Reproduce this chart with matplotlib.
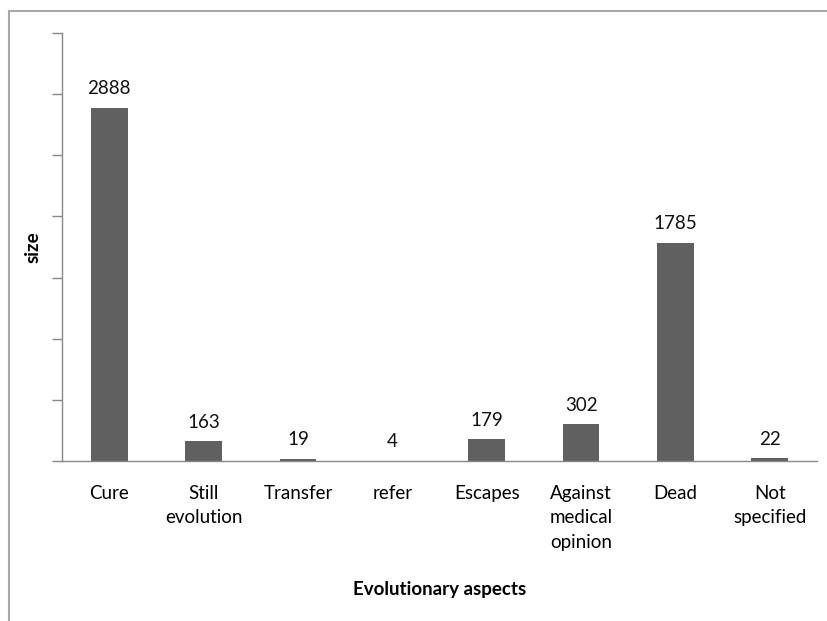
import matplotlib
matplotlib.use("Agg")
import matplotlib.pyplot as plt
from matplotlib.patches import Rectangle

categories = ["Cure", "Still\nevolution", "Transfer", "refer", "Escapes",
              "Against\nmedical\nopinion", "Dead", "Not\nspecified"]
values = [2888, 163, 19, 4, 179, 302, 1785, 22]
y_ticks = [0, 500, 1000, 1500, 2000, 2500, 3000, 3500]

plt.rcParams["font.family"] = ["Lato", "DejaVu Sans"]

fig = plt.figure(figsize=(8.28, 6.21), dpi=100)
ax = fig.add_axes([0.0749, 0.2576, 0.9118, 0.6893])

x = list(range(len(categories)))
bars = ax.bar(x, values, width=0.39, color="#606060", zorder=2)

for xi, v in zip(x, values):
    ax.annotate(str(v), (xi, v), xytext=(0, 7.5), textcoords="offset points",
                ha="center", va="bottom", fontsize=13.5, color="#111111")

ax.set_xlim(-0.5, len(categories) - 0.5)
ax.set_ylim(0, 3500)
ax.set_yticks(y_ticks)
ax.set_yticklabels([])
ax.set_xticks(x)
ax.set_xticklabels(categories, fontsize=13.5, linespacing=1.55, va="top")
ax.tick_params(axis="x", length=0, pad=17)
ax.tick_params(axis="y", direction="out", length=7, width=1, color="#888888")

for side in ["top", "right"]:
    ax.spines[side].set_visible(False)
for side in ["left", "bottom"]:
    ax.spines[side].set_color("#888888")
    ax.spines[side].set_linewidth(1)

ax.set_ylabel("size", fontsize=13.5, fontweight="bold", va="center")
ax.yaxis.set_label_coords(-0.039, 0.5)
ax.set_xlabel("Evolutionary aspects", fontsize=13.5, fontweight="bold", va="center")
ax.xaxis.set_label_coords(0.5, -0.301)

# outer chart border
fig.patches.append(Rectangle((0.0109, -0.05), 1.2, 1.0323, transform=fig.transFigure,
                             fill=False, edgecolor="#a8a8a8", linewidth=1.5))

fig.savefig("out.png", dpi=100)
